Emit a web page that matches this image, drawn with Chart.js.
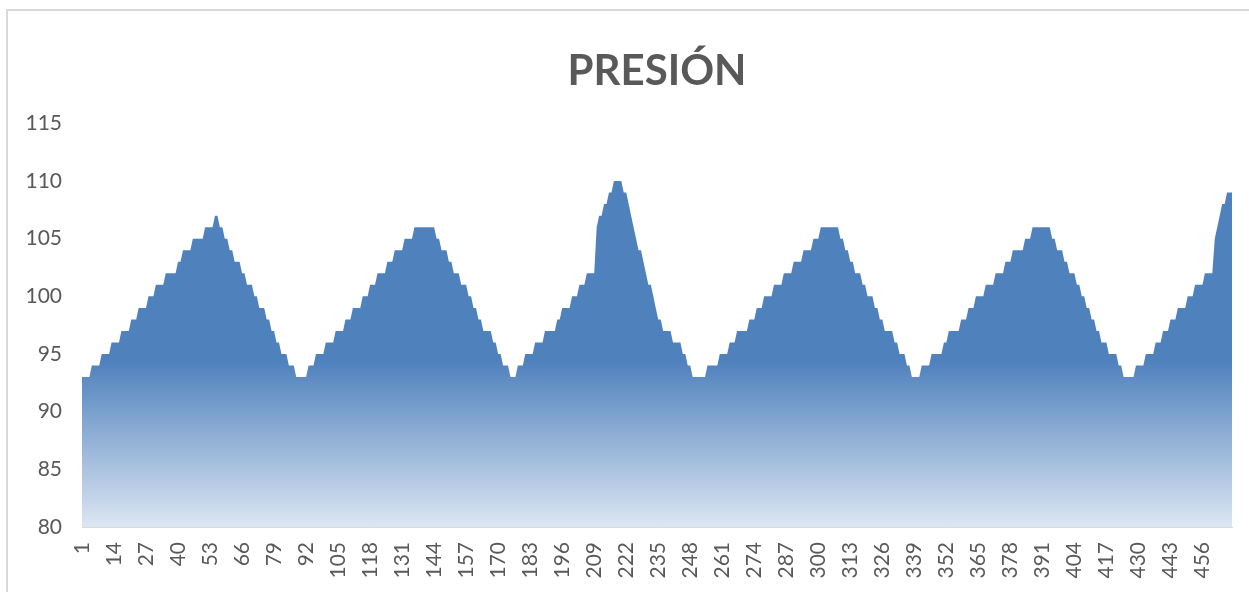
<!DOCTYPE html>
<html lang="es">
<head>
<meta charset="utf-8">
<title>PRESIÓN</title>
<script src="https://cdn.jsdelivr.net/npm/chart.js@4.4.1/dist/chart.umd.min.js"></script>
<style>
  html, body { margin: 0; padding: 0; background: #ffffff; overflow: hidden; }
  #wrap { position: relative; width: 1249px; height: 592px; }
  #frame {
    position: absolute; left: 6px; top: 9px; width: 2000px; height: 2000px;
    border: 2px solid #d9d9d9; box-sizing: border-box; pointer-events: none;
  }
  canvas { position: absolute; left: 0; top: 0; }
</style>
</head>
<body>
<div id="wrap">
  <div id="frame"></div>
  <canvas id="chart" width="1249" height="592"></canvas>
</div>
<script>
// Pressure readings, one per sample (468 samples)
const pressure = [
  93,93,93,93,94,94,94,94,95,95,95,95,96,96,96,96,97,97,97,97,98,98,98,99,99,99,99,100,100,100,101,101,101,101,102,102,102,102,102,103,103,104,104,104,104,105,105,105,105,105,106,106,106,106,107,107,
  106,106,105,105,104,104,103,103,103,102,102,101,101,101,100,100,99,99,99,98,98,97,97,96,96,95,95,95,94,94,94,93,93,93,93,93,
  94,94,94,95,95,95,95,96,96,96,96,97,97,97,97,98,98,98,99,99,99,99,100,100,100,101,101,101,102,102,102,102,103,103,103,104,104,104,104,105,105,105,105,106,106,106,106,106,106,106,106,106,
  105,105,104,104,104,103,103,102,102,102,101,101,101,100,100,99,99,98,98,97,97,97,97,96,96,95,95,94,94,94,93,93,93,
  94,94,94,95,95,95,95,96,96,96,96,97,97,97,97,97,98,98,99,99,99,99,100,100,100,101,101,101,102,102,102,102,
  106,107,107,108,108,109,109,110,110,110,110,109,109,108,107,106,105,104,104,103,102,101,101,100,99,98,98,97,97,97,97,96,96,96,96,95,95,94,94,93,93,93,93,93,93,
  94,94,94,94,94,95,95,95,95,96,96,96,97,97,97,97,97,98,98,98,99,99,99,100,100,100,100,101,101,101,101,102,102,102,102,103,103,103,103,104,104,104,104,105,105,105,106,106,106,106,106,106,106,106,
  105,105,104,104,103,103,102,102,102,101,101,100,100,100,99,99,98,98,97,97,97,97,96,96,95,95,95,94,94,93,93,93,93,
  94,94,94,94,95,95,95,95,95,96,96,97,97,97,97,97,98,98,98,99,99,99,100,100,100,100,101,101,101,101,102,102,102,102,103,103,103,104,104,104,104,104,105,105,105,106,106,106,106,106,106,106,106,
  105,105,104,104,104,103,103,102,102,102,101,101,100,100,99,99,98,98,97,97,96,96,96,95,95,95,95,94,94,93,93,93,93,93,
  94,94,94,94,95,95,95,95,96,96,96,97,97,97,98,98,98,99,99,99,99,100,100,100,101,101,101,101,102,102,102,102,105,106,107,108,108,109,109,109
];

// Sample numbers along the category axis
const samples = pressure.map((_, i) => String(i + 1));

// Sample numbers printed under the axis
const tickLabels = ['1','14','27','40','53','66','79','92','105','118','131','144','157','170','183','196',
  '209','222','235','248','261','274','287','300','313','326','339','352','365','378','391','404',
  '417','430','443','456'];

// Value axis ticks
const yTicks = [80, 85, 90, 95, 100, 105, 110, 115];

const textColor = '#595959';
const shown = new Set(tickLabels);

function areaFill(context) {
  const chart = context.chart;
  const area = chart.chartArea;
  if (!area) return '#4F81BD';
  const top = chart.scales.y.getPixelForValue(Math.max(...pressure));
  const g = chart.ctx.createLinearGradient(0, top, 0, area.bottom);
  g.addColorStop(0, '#4F81BD');
  g.addColorStop(0.52, '#4F81BD');
  g.addColorStop(1, '#DCE6F2');
  return g;
}

new Chart(document.getElementById('chart'), {
  type: 'line',
  data: {
    labels: samples,
    datasets: [{
      label: 'PRESIÓN',
      data: pressure,
      fill: 'start',
      backgroundColor: areaFill,
      borderWidth: 0,
      borderColor: 'rgba(0,0,0,0)',
      pointRadius: 0,
      tension: 0
    }]
  },
  options: {
    responsive: false,
    animation: false,
    devicePixelRatio: 1,
    layout: { padding: { left: 0, right: 17, top: 0, bottom: 0 } },
    plugins: {
      legend: { display: false },
      tooltip: { enabled: false },
      title: {
        display: true,
        text: 'PRESIÓN',
        fullSize: false,
        color: textColor,
        font: { family: 'Lato', size: 42, weight: 'bold', lineHeight: 1.2 },
        padding: { top: 46, bottom: 27 }
      }
    },
    scales: {
      x: {
        type: 'category',
        offset: false,
        grid: { display: false, drawTicks: false },
        border: { display: true, color: '#d9d9d9', width: 1 },
        ticks: {
          autoSkip: false,
          minRotation: 90,
          maxRotation: 90,
          padding: 15,
          color: textColor,
          font: { family: 'Lato', size: 21 },
          callback: function (value) {
            const lbl = this.getLabelForValue(value);
            return shown.has(lbl) ? lbl : null;
          }
        },
        afterFit: (scale) => { scale.height = 65; }
      },
      y: {
        min: yTicks[0],
        max: yTicks[yTicks.length - 1],
        grid: { display: false, drawTicks: false },
        border: { display: false },
        afterBuildTicks: (scale) => { scale.ticks = yTicks.map(v => ({ value: v })); },
        ticks: {
          padding: 20,
          color: textColor,
          font: { family: 'Lato', size: 21 }
        },
        afterFit: (scale) => { scale.width = 82; }
      }
    }
  }
});
</script>
</body>
</html>
